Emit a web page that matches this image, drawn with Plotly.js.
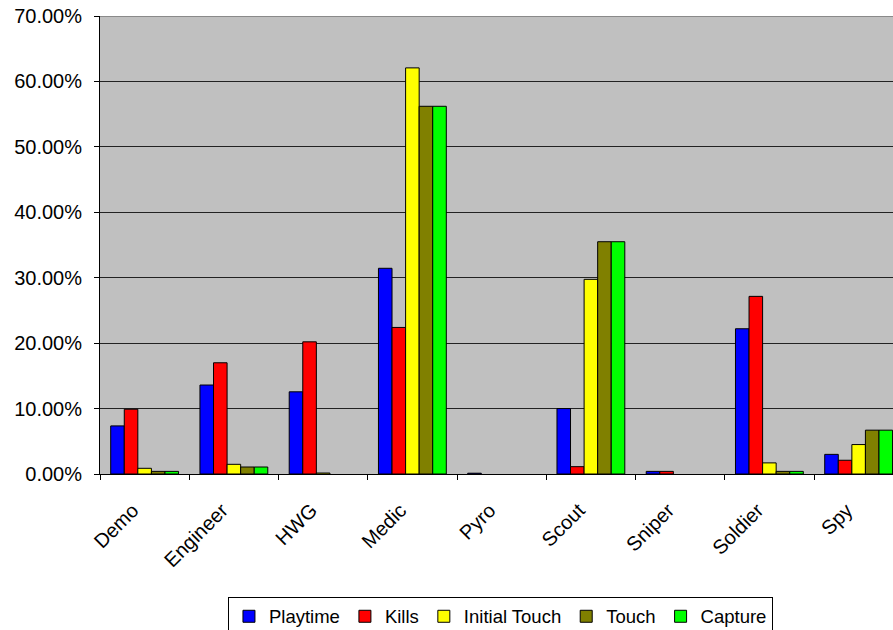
<!DOCTYPE html>
<html>
<head>
<meta charset="utf-8">
<script src="https://cdn.plot.ly/plotly-3.0.1.min.js"></script>
<style>
  html, body { margin: 0; padding: 0; background: #fff; overflow: hidden; }
  #chart { width: 893px; height: 630px; }
</style>
</head>
<body>
<div id="chart"></div>
<script>
// Share of each class per statistic (fractions); null = no bar
const classes = ["Demo", "Engineer", "HWG", "Medic", "Pyro", "Scout", "Sniper", "Soldier", "Spy"];

const playtime     = [0.0735, 0.136, 0.1256, 0.3144, 0.0012, 0.100, 0.004, 0.222, 0.030];
const kills        = [0.099, 0.170, 0.202, 0.224, null, 0.0112, 0.004, 0.2715, 0.021];
const initialTouch = [0.0087, 0.0148, 0.0015, 0.6207, null, 0.2975, null, 0.017, 0.045];
const touch        = [0.004, 0.0107, null, 0.562, null, 0.355, null, 0.004, 0.067];
const capture      = [0.004, 0.0107, null, 0.562, null, 0.355, null, 0.004, 0.067];

const seriesNames  = ["Playtime", "Kills", "Initial Touch", "Touch", "Capture"];
const seriesValues = [playtime, kills, initialTouch, touch, capture];
const seriesColors = ["#0000ff", "#ff0000", "#ffff00", "#808000", "#00ff00"];

const yTicks = [0, 0.1, 0.2, 0.3, 0.4, 0.5, 0.6, 0.7];

// Category labels padded on the right so the slanted text sits left of the tick
const xTickText = classes.map(c => c + "\u00a0\u00a0\u00a0");

const traces = seriesNames.map((name, i) => ({
  type: "bar",
  name: name,
  x: classes,
  y: seriesValues[i],
  marker: { color: seriesColors[i], line: { color: "#000", width: 1 } },
  hoverinfo: "x+y+name"
}));

const font = { family: "Liberation Sans, Arial, sans-serif", color: "#000" };

const layout = {
  width: 893,
  height: 630,
  margin: { l: 100, r: 0, t: 16, b: 156, autoexpand: false },
  paper_bgcolor: "#ffffff",
  plot_bgcolor: "#c0c0c0",
  barmode: "group",
  bargap: 0.24,
  bargroupgap: 0,
  font: Object.assign({ size: 18 }, font),
  showlegend: true,
  legend: {
    orientation: "h",
    x: 0.505, xanchor: "center",
    y: -0.268, yanchor: "top",
    bordercolor: "#000", borderwidth: 1,
    bgcolor: "#fff",
    font: Object.assign({ size: 18.5 }, font),
    itemwidth: 30,
    traceorder: "normal"
  },
  xaxis: {
    type: "category",
    range: [-0.5, 8.385],
    automargin: false,
    tickmode: "array",
    tickvals: classes,
    ticktext: xTickText,
    tickangle: -45,
    tickson: "boundaries",
    ticks: "outside",
    ticklen: 5,
    tickcolor: "#000",
    showline: true,
    linecolor: "#000",
    linewidth: 1,
    showgrid: false,
    tickfont: Object.assign({ size: 20 }, font),
    ticklabelstandoff: 4,
    fixedrange: true
  },
  yaxis: {
    range: [0, 0.7],
    automargin: false,
    tickvals: yTicks,
    tickformat: ".2%",
    ticks: "outside",
    ticklen: 5,
    tickcolor: "#000",
    showline: true,
    linecolor: "#000",
    linewidth: 1,
    showgrid: true,
    gridcolor: "#222",
    gridwidth: 1,
    zeroline: false,
    tickfont: Object.assign({ size: 20 }, font),
    ticklabelstandoff: 8,
    fixedrange: true
  },
  shapes: [
    {
      type: "line", xref: "paper", yref: "y",
      x0: 0, x1: 1, y0: 0.7, y1: 0.7,
      line: { color: "#8a8a8a", width: 2 }
    }
  ]
};

Plotly.newPlot("chart", traces, layout, { displayModeBar: false, staticPlot: true });
</script>
</body>
</html>
